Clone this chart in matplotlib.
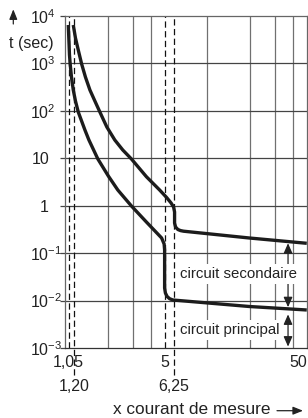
import numpy as np
import matplotlib
matplotlib.use('Agg')
import matplotlib.pyplot as plt

plt.rcParams['font.family'] = ['Liberation Sans', 'DejaVu Sans']
plt.rcParams['mathtext.fontset'] = 'custom'
plt.rcParams['mathtext.rm'] = 'Liberation Sans'
plt.rcParams['lines.scale_dashes'] = False

# circuit principal : t (sec) en fonction de x courant de mesure
prin_x = [1.0546, 1.0648, 1.0751, 1.0874, 1.1103, 1.1431, 1.1843, 1.239, 1.38,
          1.472, 1.7012, 2.0144, 2.3479, 2.9275, 3.7273, 4.7681, 4.964, 5.004,
          5.004, 5.069, 5.2097, 5.4239, 5.72, 19.66, 49.8]
prin_t = [6460, 3120, 1506, 972.7, 517.5, 275.3, 161.4, 94.6, 39.48,
          24.3, 9.66, 4.232, 2.145, 0.9863, 0.4536, 0.2087, 0.1559, 0.1165,
          0.01842, 0.01444, 0.01219, 0.01095, 0.01028, 0.0075, 0.00633]

# circuit secondaire
sec_x = [1.1431, 1.1843, 1.239, 1.3088, 1.3911, 1.4959, 1.6206, 1.7573, 1.9663,
         2.2366, 2.5446, 2.9275, 3.7273, 4.6171, 5.1681, 5.5566, 5.7847, 5.8785,
         5.8785, 5.9739, 6.1997, 6.4747, 6.7945, 19.66, 49.8]
sec_t = [6460, 3437, 1919, 972.7, 517.5, 275.3, 161.4, 94.6, 45.67,
         24.3, 14.95, 9.66, 4.09, 2.145, 1.49, 1.141, 0.9396, 0.7373,
         0.4321, 0.3558, 0.3152, 0.2988, 0.2902, 0.2087, 0.1613]

dash_x = [1.06, 1.155, 5.05, 5.82]
dash_lab = ['1,05', '1,20', '5', '6,25']
grid_x = [2, 3, 4, 10, 20, 30, 40]
y_exp = [-3, -2, -1, 0, 1, 2, 3, 4]

W, H = 308, 418
fig = plt.figure(figsize=(W/100, H/100), dpi=100)
ax = fig.add_axes([65/W, 70/H, 242/W, 332/H])
ax.set_xscale('log')
ax.set_yscale('log')
ax.set_xlim(1, 50)
ax.set_ylim(1e-3, 1e4)

ax.set_xticks([])
ax.set_xticks([], minor=True)
ax.set_yticks([10.0**e for e in y_exp])
ax.set_yticks([], minor=True)
ax.set_yticklabels([])
ax.tick_params(axis='y', direction='out', length=3.6, width=0.9, color='#444')

for s in ['left', 'top', 'right']:
    ax.spines[s].set_color('#666')
    ax.spines[s].set_linewidth(0.9)
ax.spines['bottom'].set_color('#333')
ax.spines['bottom'].set_linewidth(0.9)

for g in grid_x:
    ax.axvline(g, color='#707070', lw=0.9, zorder=1)
for e in y_exp[1:-1]:
    ax.axhline(10.0**e, color='#444', lw=0.9, zorder=1)

# lignes pointillees et etiquettes x
for i, (xv, lab) in enumerate(zip(dash_x, dash_lab)):
    low = -0.081 if i % 2 else 0
    ax.plot([xv, xv], [low, 1], transform=ax.get_xaxis_transform(), color='#111',
            lw=0.9, dashes=(4.5, 2.5), clip_on=False, zorder=2)
    yl = -0.1145 if i % 2 else -0.0422
    ax.text(xv, yl, lab, transform=ax.get_xaxis_transform(), ha='center',
            va='center', fontsize=11.5, color='#222')
ax.text(50, -0.0422, '50', transform=ax.get_xaxis_transform(), ha='right',
        va='center', fontsize=11.5, color='#222')

# etiquettes y
for e in y_exp:
    if e == 0:
        ax.text(-0.066, 1, '1', transform=ax.get_yaxis_transform(), ha='right',
                va='center_baseline', fontsize=11.5, color='#222')
    elif e == 1:
        ax.text(-0.066, 10, '10', transform=ax.get_yaxis_transform(), ha='right',
                va='center_baseline', fontsize=11.5, color='#222')
    else:
        ax.text(-0.1446, 10.0**e, r'$\mathregular{10^{%d}}$' % e,
                transform=ax.get_yaxis_transform(), ha='left',
                va='center_baseline', fontsize=11.5, color='#222')

ax.plot(prin_x, prin_t, color='#1c1c1c', lw=2.4, solid_capstyle='butt',
        solid_joinstyle='round', zorder=3)
ax.plot(sec_x, sec_t, color='#1c1c1c', lw=2.4, solid_capstyle='butt',
        solid_joinstyle='round', zorder=3)

# fleches entre les courbes
xa = 36.8
t_sec = 10**np.interp(np.log10(xa), np.log10(sec_x), np.log10(sec_t))
t_prin = 10**np.interp(np.log10(xa), np.log10(prin_x), np.log10(prin_t))
ap = dict(arrowstyle='<|-|>,head_length=0.5,head_width=0.22', lw=0.9,
          color='#222', mutation_scale=12)
ax.annotate('', xy=(xa, t_sec), xytext=(xa, t_prin),
            arrowprops=dict(ap, shrinkA=1.2, shrinkB=1.2), zorder=4)
ax.annotate('', xy=(xa, t_prin), xytext=(xa, 1e-3),
            arrowprops=dict(ap, shrinkA=1, shrinkB=4), zorder=4)

box = dict(boxstyle='square,pad=0.18', fc='white', ec='none')
ax.text(6.37, 0.0363, 'circuit secondaire', ha='left', va='center',
        fontsize=10.8, color='#222', bbox=box, zorder=5)
ax.text(6.37, 0.0024, 'circuit principal', ha='left', va='center',
        fontsize=10.8, color='#222', bbox=box, zorder=5)

# titres des axes
one_way = dict(arrowstyle='-|>,head_length=0.5,head_width=0.2', lw=0.9,
               color='#222', mutation_scale=12, shrinkA=0, shrinkB=0)
fig.text(31/W, 1 - 43.7/H, 't (sec)', ha='center', va='center', fontsize=11.5,
         color='#222')
ax.annotate('', xy=(13.3, H - 9.3), xytext=(13.3, H - 24), xycoords='figure pixels',
            textcoords='figure pixels', arrowprops=one_way)
fig.text(192/W, 1 - 409/H, 'x courant de mesure', ha='center', va='center',
         fontsize=12.4, color='#222')
ax.annotate('', xy=(303, H - 410.7), xytext=(277, H - 410.7), xycoords='figure pixels',
            textcoords='figure pixels', arrowprops=one_way)

fig.savefig('out.png', dpi=100)
